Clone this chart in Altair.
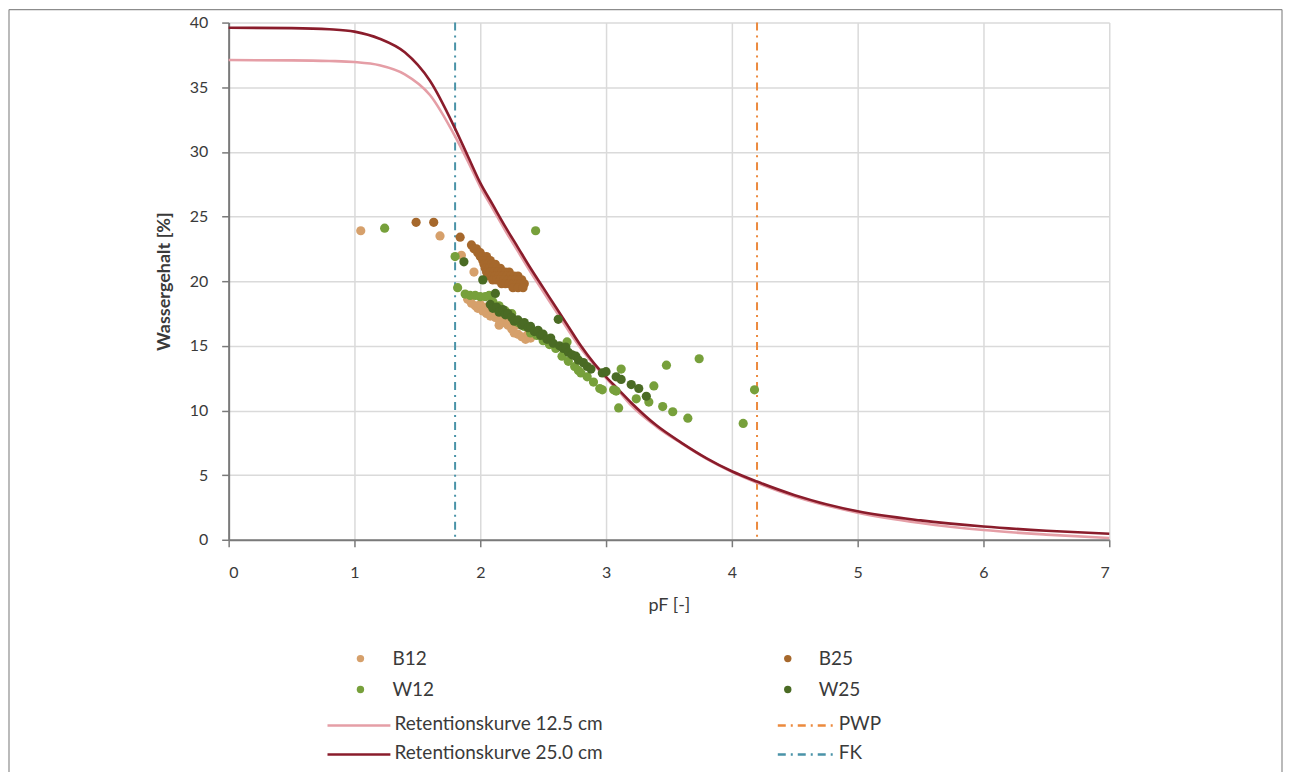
import altair as alt
import pandas as pd

# ---------------- data ----------------
curve_pf = [0, 0.5, 0.8, 1.0, 1.2, 1.4, 1.6, 1.8, 1.9, 2.0, 2.1, 2.2, 2.3, 2.4, 2.5, 2.6, 2.7,
            2.8, 2.9, 3.0, 3.1, 3.2, 3.4, 3.6, 3.8, 4.0, 4.2, 4.5, 5.0, 5.5, 6.0, 6.5, 7.0]
curve_12_5 = [37.1, 37.08, 37.03, 36.95, 36.7, 36.0, 34.4, 31.2, 29.3, 27.3, 25.6, 23.9, 22.3,
              20.7, 19.2, 17.7, 16.2, 14.8, 13.6, 12.5, 11.5, 10.4, 8.75, 7.45, 6.25, 5.25,
              4.4, 3.35, 2.1, 1.3, 0.75, 0.4, 0.13]
curve_25_0 = [39.6, 39.57, 39.48, 39.3, 38.75, 37.7, 35.5, 31.8, 29.7, 27.6, 25.9, 24.2, 22.6,
              21.0, 19.5, 18.0, 16.5, 15.0, 13.7, 12.6, 11.6, 10.6, 8.85, 7.5, 6.3, 5.3,
              4.5, 3.45, 2.2, 1.5, 1.03, 0.7, 0.46]

b12_pf = [1.05, 1.68, 1.85, 1.95, 1.9, 1.93, 1.96, 1.98, 2.0, 2.02, 2.05, 2.08, 2.1, 2.12, 2.15,
          2.18, 2.2, 2.22, 2.25, 2.27, 2.3, 2.33, 2.36, 2.4, 2.05, 2.15, 2.28, 2.38]
b12_wc = [23.9, 23.5, 22.0, 20.7, 18.6, 18.3, 18.1, 17.9, 18.2, 17.7, 17.5, 17.3, 17.6, 17.2, 17.0,
          16.8, 17.1, 16.6, 16.3, 16.0, 15.9, 15.7, 15.5, 15.6, 18.0, 16.6, 16.6, 15.9]

b25_pf = [1.49, 1.63, 1.84,
          1.93, 1.95, 1.97, 1.98, 2.0, 2.0, 2.02, 2.05, 2.02, 2.05, 2.08,
          2.03, 2.06, 2.09, 2.12, 2.04, 2.07, 2.1, 2.13, 2.16,
          2.05, 2.08, 2.11, 2.14, 2.17, 2.2, 2.23,
          2.06, 2.09, 2.12, 2.15, 2.18, 2.21, 2.24, 2.27, 2.3,
          2.1, 2.13, 2.16, 2.19, 2.22, 2.25, 2.28, 2.31, 2.33,
          2.17, 2.2, 2.23, 2.26, 2.29, 2.32, 2.35, 2.26, 2.3, 2.34]
b25_wc = [24.55, 24.55, 23.4,
          22.8, 22.5, 22.5, 22.2, 22.2, 21.9, 21.9, 21.9, 21.6, 21.6, 21.6,
          21.3, 21.3, 21.3, 21.3, 21.0, 21.0, 21.0, 21.0, 21.0,
          20.7, 20.7, 20.7, 20.7, 20.7, 20.7, 20.7,
          20.4, 20.4, 20.4, 20.4, 20.4, 20.4, 20.4, 20.4, 20.4,
          20.1, 20.1, 20.1, 20.1, 20.1, 20.1, 20.1, 20.1, 20.1,
          19.8, 19.8, 19.8, 19.8, 19.8, 19.8, 19.8, 19.5, 19.5, 19.5]

w12_pf = [1.24, 2.44, 1.80, 1.82, 1.88, 1.92, 1.96, 2.0, 2.04, 2.07, 2.1, 2.15, 2.2, 2.25, 2.3,
          2.35, 2.4, 2.45, 2.5, 2.55, 2.6, 2.65, 2.69, 2.7, 2.75, 2.78, 2.8, 2.85, 2.9, 2.95,
          2.97, 3.06, 3.08, 3.12, 3.1, 3.24, 3.34, 3.38, 3.45, 3.48, 3.53, 3.65, 3.74, 4.09, 4.18]
w12_wc = [24.1, 23.9, 21.9, 19.5, 19.0, 18.9, 18.9, 18.8, 18.8, 18.9, 18.4, 18.1, 17.7, 17.5, 16.8,
          16.5, 16.0, 15.8, 15.4, 15.1, 14.8, 14.2, 15.3, 13.8, 13.4, 13.1, 12.9, 12.6, 12.2, 11.7,
          11.6, 11.6, 11.5, 13.2, 10.2, 10.9, 10.65, 11.9, 10.3, 13.5, 9.9, 9.4, 14.0, 9.0, 11.6]

w25_pf = [1.87, 2.02, 2.12, 2.08, 2.1, 2.13, 2.15, 2.18, 2.2, 2.22, 2.25, 2.27, 2.3, 2.33, 2.35,
          2.38, 2.4, 2.43, 2.46, 2.48, 2.5, 2.53, 2.56, 2.58, 2.62, 2.63, 2.66, 2.68, 2.7, 2.73,
          2.76, 2.78, 2.82, 2.85, 2.88, 2.97, 3.0, 3.08, 3.12, 3.2, 3.26, 3.32]
w25_wc = [21.5, 20.1, 19.05, 18.2, 17.9, 18.0, 17.6, 17.8, 17.4, 17.5, 17.2, 16.9, 17.0, 16.6, 16.8,
          16.4, 16.5, 16.1, 16.2, 15.8, 15.9, 15.5, 15.6, 15.2, 17.05, 15.0, 14.8, 14.9, 14.5, 14.3,
          14.2, 13.9, 13.7, 13.4, 13.2, 12.9, 13.0, 12.6, 12.4, 12.0, 11.7, 11.1]

ref_names = ["PWP", "FK"]
ref_pf = [4.2, 1.8]

x_ticks = [0, 1, 2, 3, 4, 5, 6, 7]
y_ticks = [0, 5, 10, 15, 20, 25, 30, 35, 40]

# ---------------- styles ----------------
FONT = "Lato"
TXT = "#3a3a3a"
C_B12 = "#d6a06b"
C_B25 = "#a6682c"
C_W12 = "#77a03b"
C_W25 = "#4a6b24"
C_R12 = "#e59ea6"
C_R25 = "#8a1c2b"
C_PWP = "#ec8a3e"
C_FK = "#4a93a8"
DASH = [8, 5, 2, 5]

W, H = 882, 518

xs = alt.Scale(domain=[0, 7], nice=False, zero=False)
ys = alt.Scale(domain=[0, 40], nice=False)

curves = pd.DataFrame({"pf": curve_pf, "r12": curve_12_5, "r25": curve_25_0})

x_enc = alt.X("pf:Q", scale=xs,
              axis=alt.Axis(values=x_ticks, title="pF [-]", grid=True, format="d"))
y_enc = alt.Y("wc:Q", scale=ys,
              axis=alt.Axis(values=y_ticks, title="Wassergehalt [%]", grid=True, format="d"))

base_axes = alt.Chart(pd.DataFrame({"pf": [0.0], "wc": [0.0]})).mark_point(opacity=0).encode(
    x=x_enc, y=y_enc)

ref = pd.DataFrame({"name": ref_names, "pf": ref_pf})
pwp = alt.Chart(ref[ref["name"] == "PWP"]).mark_rule(
    color=C_PWP, strokeWidth=2, strokeDash=DASH).encode(x=alt.X("pf:Q", scale=xs))
fk = alt.Chart(ref[ref["name"] == "FK"]).mark_rule(
    color=C_FK, strokeWidth=2, strokeDash=DASH).encode(x=alt.X("pf:Q", scale=xs))

line12 = alt.Chart(curves).mark_line(color=C_R12, strokeWidth=2.6, interpolate="monotone").encode(
    x=alt.X("pf:Q", scale=xs), y=alt.Y("r12:Q", scale=ys))
line25 = alt.Chart(curves).mark_line(color=C_R25, strokeWidth=2.6, interpolate="monotone").encode(
    x=alt.X("pf:Q", scale=xs), y=alt.Y("r25:Q", scale=ys))


def pts(pf, wc, color):
    df = pd.DataFrame({"pf": pf, "wc": wc})
    return alt.Chart(df).mark_circle(size=85, color=color, opacity=1).encode(
        x=alt.X("pf:Q", scale=xs), y=alt.Y("wc:Q", scale=ys))


one = pd.DataFrame({"a": [0]})


def leg_dot(px, py, color):
    return alt.Chart(one).mark_circle(size=55, color=color, opacity=1).encode(
        x=alt.value(px), y=alt.value(py))


def rule(px1, px2, py1, py2, color, width=2.6, dash=None):
    kw = dict(color=color, strokeWidth=width)
    if dash is not None:
        kw["strokeDash"] = dash
    return alt.Chart(one).mark_rule(**kw).encode(
        x=alt.value(px1), x2=alt.value(px2), y=alt.value(py1), y2=alt.value(py2))


def leg_text(px, py, label):
    return alt.Chart(one).mark_text(
        text=label, align="left", baseline="middle", font=FONT, fontSize=19, color=TXT
    ).encode(x=alt.value(px), y=alt.value(py))


FR = "#8c8c8c"
FL, FRT, FT = -220, 1055, -13
frame = [
    rule(FL, FRT, FT, FT, FR, 1.2),
    rule(FL, FL, FT, 800, FR, 1.2),
    rule(FRT, FRT, FT, 800, FR, 1.2),
]

R1, R2, R3, R4 = 637, 668, 704, 733
legend = [
    leg_dot(132, R1, C_B12), leg_text(164, R1, "B12"),
    leg_dot(560, R1, C_B25), leg_text(591, R1, "B25"),
    leg_dot(132, R2, C_W12), leg_text(164, R2, "W12"),
    leg_dot(560, R2, C_W25), leg_text(591, R2, "W25"),
    rule(99, 162, R3, R3, C_R12), leg_text(166, R3 - 1, "Retentionskurve 12.5 cm"),
    rule(550, 609, R3, R3, C_PWP, 2.6, DASH), leg_text(611, R3 - 1, "PWP"),
    rule(99, 162, R4, R4, C_R25), leg_text(166, R4 - 1, "Retentionskurve 25.0 cm"),
    rule(550, 609, R4, R4, C_FK, 2.6, DASH), leg_text(611, R4 - 1, "FK"),
]

chart = alt.layer(
    base_axes, *frame, fk, pwp, line12, line25,
    pts(b12_pf, b12_wc, C_B12), pts(b25_pf, b25_wc, C_B25),
    pts(w12_pf, w12_wc, C_W12), pts(w25_pf, w25_wc, C_W25),
    *legend
).properties(
    width=W, height=H,
    autosize=alt.AutoSizeParams(type="none"),
    padding={"left": 221, "top": 14, "right": 175, "bottom": 232},
).configure_view(stroke=None).configure_axis(
    labelFont=FONT, titleFont=FONT, labelColor=TXT, titleColor=TXT,
    labelFontSize=16, titleFontSize=18,
    gridColor="#dadada", gridWidth=1.5,
    domainColor="#7a7a7a", domainWidth=2, tickColor="#7a7a7a", tickWidth=1.5, tickSize=7,
).configure_axisY(
    labelPadding=14, titlePadding=16, titleFontWeight="bold",
).configure_axisX(
    labelPadding=18, titlePadding=16, titleFontWeight="normal",
)

chart.save("out.html", embed_options={"renderer": "svg", "actions": False})
